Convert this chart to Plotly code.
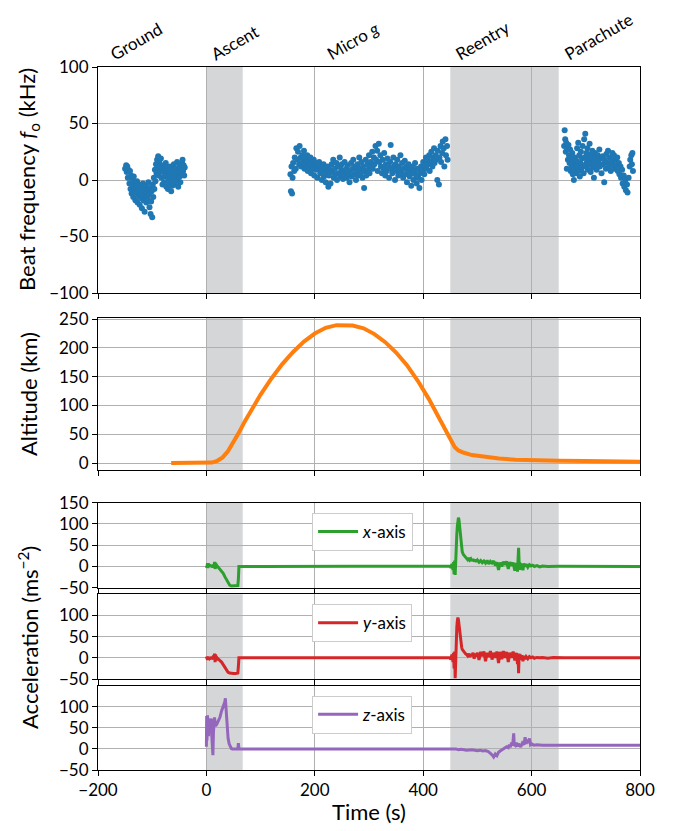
import plotly.graph_objects as go

# ---------------- data ----------------
gnd_t = [-150,-148,-147,-146,-145,-144,-142,-141,-140,-139,-138,-137,-136,-135,-134,-133,-132,-131,-130,-129,
         -128,-127,-126,-125,-124,-123,-122,-121,-120,-119,-118,-117,-116,-115,-114,-113,-112,-111,-110,-109,
         -108,-107,-106,-105,-104,-103,-102,-101,-100,-99,-98,-97,-96,-95,-94,-93,-92,-91,-90,-89,
         -88,-87,-86,-85,-84,-83,-82,-81,-80,-79,-78,-77,-76,-75,-74,-73,-72,-71,-70,-69,
         -68,-67,-66,-65,-64,-63,-62,-61,-60,-59,-58,-57,-56,-55,-54,-53,-52,-51,-50,-49,
         -48,-47,-46,-45,-44,-43,-42,-41,-40]
gnd_f = [10,13,7,12,2,9,-3,8,-8,4,-12,1,-5,-15,3,-9,-2,-18,-6,-11,
         -1,-20,-8,-14,-4,-22,-10,-16,-6,-25,-12,-3,-18,-9,-28,-14,-5,-20,-11,-8,
         -17,-2,-13,-24,-7,-30,-19,-10,-33,-4,-15,2,-8,9,-1,14,6,18,11,21,
         4,16,8,12,19,2,10,-4,7,13,-2,9,3,15,-6,5,11,-8,1,8,
         -3,12,5,-10,3,-5,9,0,14,-4,6,10,-1,4,16,1,-6,8,12,3,
         -2,10,6,15,18,8,13,4,11]

mg_t = [155,156,157,158,159,160,162,163,165,166,168,169,171,172,174,175,177,178,180,181,
        183,184,186,187,189,190,192,193,195,196,198,199,201,202,204,205,207,208,210,211,
        213,214,216,217,219,220,222,223,225,226,228,229,231,232,234,235,237,238,240,241,
        243,244,246,247,249,250,252,253,255,256,258,259,261,262,264,265,267,268,270,271,
        273,274,276,277,279,280,282,283,285,286,288,289,291,292,294,295,297,298,300,301,
        303,304,306,307,309,310,312,313,315,316,318,319,321,322,324,325,327,328,330,331,
        333,334,336,337,339,340,342,343,345,346,348,349,351,352,354,355,357,358,360,361,
        363,364,366,367,369,370,372,373,375,376,378,379,381,382,384,385,387,388,390,391,
        393,394,396,397,399,400,402,403,405,406,408,409,411,412,414,415,417,418,420,421,
        423,424,426,427,429,430,432,433,435,436,438,439,441,442,444,445]
mg_f = [5,-10,12,-12,2,15,8,20,10,28,18,25,14,30,20,12,22,16,26,10,
        18,14,22,8,17,12,20,6,14,10,18,4,13,9,15,2,10,16,6,12,
        0,8,14,3,10,-2,6,12,-6,4,9,-3,14,7,18,2,10,5,15,0,
        12,6,20,3,9,14,1,7,16,4,10,2,13,6,-2,8,15,3,10,18,
        5,12,0,8,14,4,20,10,6,16,2,12,-7,8,18,4,14,9,22,6,
        16,12,25,10,20,14,30,18,26,8,32,16,22,12,6,18,10,24,4,14,
        8,19,12,2,16,31,10,6,20,12,0,14,8,18,4,12,9,22,6,15,
        2,10,17,5,12,-2,8,14,3,10,-5,6,12,0,8,15,4,-3,10,2,
        -7,6,12,0,8,16,5,12,20,10,18,14,22,8,16,25,12,20,28,15,
        22,18,0,26,-4,20,30,16,24,34,28,12,36,22,30,18]

par_t = [660,661,662,663,664,665,666,667,668,669,670,671,672,673,674,675,676,677,678,679,
         680,681,682,683,684,685,686,687,688,689,690,691,692,693,694,695,696,697,698,699,
         700,701,702,703,704,705,706,707,708,709,710,711,712,713,714,715,716,717,718,719,
         720,722,723,725,726,728,729,731,732,734,735,737,738,740,741,743,744,746,747,749,
         750,752,753,755,756,758,759,761,762,764,765,767,768,770,771,773,774,776,777,779,
         781,782,784,785,786,787]
par_f = [30,44,36,25,33,10,28,18,31,22,15,27,8,19,12,24,5,16,0,10,
         20,14,6,17,28,12,33,8,22,3,15,25,10,19,30,13,6,36,20,41,
         12,24,16,28,9,21,14,32,18,7,23,15,26,11,19,2,17,24,13,20,
         9,22,16,27,12,19,6,21,14,-2,18,10,23,15,26,12,20,8,17,24,
         14,22,10,18,13,20,8,15,5,12,2,9,-3,4,-6,0,-9,-4,-11,2,
         12,18,22,14,24,8]

alt_t = [-65,-40,-20,0,10,20,30,40,50,60,70,80,90,100,120,140,160,180,200,220,
         240,255,270,290,310,330,350,370,390,410,425,440,450,458,465,475,490,510,540,570,
         600,650,700,750,800]
alt_h = [0,0,0,0,1,4,10,21,36,53,71,88,104,119,147,172,193,211,225,235,
         239.5,240,239,234,224,210,192,170,143,112,85,58,40,28,22,18,14,11,8,6,
         5,4,3.5,3,2.5]

ax_t = [0,1,2,3,4,5,6,8,10,12,14,15,16,17,18,20,22,25,28,31,34,37,40,43,46,50,54,58,59,59.5,
        60,100,200,300,400,445,449,451,453,455,456,457,458,459,460,461,462,463,464,465,
        466,467,468,469,470,471,472,474,476,478,480,482,484,486,488,490,492,494,496,498,
        500,503,506,509,512,515,518,521,524,527,530,533,536,539,542,545,548,551,554,557,
        560,563,566,569,572,574,575,576,577,578,579,580,582,584,586,588,590,593,596,599,
        602,605,610,615,620,630,650,700,750,800]
ax_v = [2,-3,8,-4,6,0,3,1,0,2,-2,11,-6,9,-3,1,-2,-5,-10,-16,-24,-32,-39,-44,-46,-46,-46,-45,-30,0,
        0,0,0,0,0,0,1,-3,6,-8,10,-18,14,-20,30,55,75,95,108,115,
        110,98,82,65,52,42,35,28,24,21,19,16,20,15,18,13,17,12,16,11,
        15,10,14,9,13,8,14,6,12,8,13,2,10,-8,9,0,11,4,12,-6,
        10,2,9,-10,8,-12,20,44,10,-8,8,3,6,-9,7,0,5,-2,4,1,
        3,0,2,-1,1,0,0.5,0,0.5,0]

ay_t = [0,1,2,3,4,5,6,8,10,12,14,15,16,17,18,20,22,25,28,31,34,37,40,43,46,50,54,58,59,59.5,
        60,100,200,300,400,445,449,451,453,455,456,457,458,459,460,461,462,463,464,465,
        466,467,468,469,470,471,472,474,476,478,480,482,484,486,488,490,492,494,496,498,
        500,503,506,509,512,515,518,521,524,527,530,533,536,539,542,545,548,551,554,557,
        560,563,566,569,572,574,575,576,577,578,579,580,582,584,586,588,590,593,596,599,
        602,605,610,615,620,630,640,650,660,700,750,800]
ay_v = [-2,2,-5,3,-3,0,-2,0,-1,2,-3,10,-10,8,-5,0,-3,-6,-10,-16,-22,-29,-34,-36,-37,-37,-37,-36,-20,0,
        0,0,0,0,0,0,1,-4,8,-10,12,-25,15,-48,25,50,72,88,95,90,
        78,62,48,38,30,25,20,16,12,10,8,5,10,2,9,4,12,-2,10,3,
        12,-5,14,4,15,-8,12,2,16,-4,12,0,15,-12,14,-3,16,0,14,-10,
        12,0,15,-6,12,-15,8,-36,10,-5,8,-2,6,-8,5,-3,3,-2,3,0,
        2,-1,1,0,1,-1,1,0,0.5,0,0,0]

az_t = [0,0.5,1,2,3,4,5,6,7,8,9,10,11,12,13,14,15,16,17,19,22,25,28,31,34,35,36,37,38,39,
        40,42,44,46,48,55,58,59,60,100,200,300,400,450,455,460,465,470,480,490,
        500,505,510,515,520,524,527,530,533,536,539,542,545,548,551,554,557,559,561,563,
        565,567,568,570,572,574,576,578,580,583,586,588,590,592,594,596,598,600,604,610,
        620,650,700,750,800]
az_v = [5,78,20,80,60,30,72,40,55,65,72,30,-10,-15,40,68,75,62,55,58,65,75,90,100,112,120,95,75,55,40,
        25,12,5,1,0,0,0,14,0,0,0,0,0,0,-1,0,-2,-1,-3,-2,
        -4,-3,-5,-4,-6,-10,-14,-19,-12,-16,-8,-5,-2,0,2,5,3,10,4,15,
        8,37,10,8,15,6,12,8,5,14,10,28,12,22,14,25,10,12,9,10,
        9,9,9,9,9]

phase_names = ["Ground", "Ascent", "Micro <i>g</i>", "Reentry", "Parachute"]
phase_label_x = [-190, -3, 211, 447, 648]
shade_spans = [(0, 67), (450, 650)]

x_ticks = [-200, 0, 200, 400, 600, 800]

# ---------------- figure ----------------
FONT = "Lato"
BLUE, ORANGE, GREEN, RED, PURPLE = "#1f77b4", "#ff7f0e", "#2ca02c", "#d62728", "#9467bd"
GRID = "#b0b0b0"
SHADE = "#d5d6d8"

fig = go.Figure()

fig.add_trace(go.Scatter(x=gnd_t + mg_t + par_t, y=gnd_f + mg_f + par_f, mode="markers",
                         marker=dict(color=BLUE, size=6), xaxis="x", yaxis="y", showlegend=False))
fig.add_trace(go.Scatter(x=alt_t, y=alt_h, mode="lines", line=dict(color=ORANGE, width=4),
                         xaxis="x2", yaxis="y2", showlegend=False))
fig.add_trace(go.Scatter(x=ax_t, y=ax_v, mode="lines", line=dict(color=GREEN, width=3),
                         xaxis="x3", yaxis="y3", name="<i>x</i>-axis", legend="legend"))
fig.add_trace(go.Scatter(x=ay_t, y=ay_v, mode="lines", line=dict(color=RED, width=3),
                         xaxis="x4", yaxis="y4", name="<i>y</i>-axis", legend="legend2"))
fig.add_trace(go.Scatter(x=az_t, y=az_v, mode="lines", line=dict(color=PURPLE, width=3),
                         xaxis="x5", yaxis="y5", name="<i>z</i>-axis", legend="legend3"))

domains = [[0.6785, 1.0], [0.4267, 0.643], [0.2593, 0.3802], [0.1294, 0.2499], [0.0, 0.1199]]
y_ranges = [[-100, 100], [-12, 252], [-50, 150], [-50, 150], [-50, 150]]
y_ticks = [[-100, -50, 0, 50, 100], [0, 50, 100, 150, 200, 250],
           [-50, 0, 50, 100, 150], [-50, 0, 50, 100], [-50, 0, 50, 100]]

tickfont = dict(family=FONT, size=17, color="black")
layout = {}
for i in range(5):
    sx = "" if i == 0 else str(i + 1)
    layout["xaxis" + sx] = dict(
        range=[-200, 800], tickvals=x_ticks, showgrid=True, gridcolor=GRID, gridwidth=1,
        showline=True, linecolor="black", linewidth=1, mirror=True, ticks="outside",
        ticklen=5, tickcolor="black", zeroline=False, showticklabels=(i == 4),
        tickfont=tickfont, anchor="y" + sx, domain=[0, 1])
    layout["yaxis" + sx] = dict(
        range=y_ranges[i], tickvals=y_ticks[i], showgrid=True, gridcolor=GRID, gridwidth=1,
        showline=True, linecolor="black", linewidth=1, mirror=True, ticks="outside",
        ticklen=5, tickcolor="black", zeroline=False, tickfont=tickfont,
        anchor="x" + sx, domain=domains[i])
    for (a, b) in shade_spans:
        fig.add_shape(type="rect", xref="x" + sx, yref="y" + sx + " domain",
                      x0=a, x1=b, y0=0, y1=1, fillcolor=SHADE, line=dict(width=0), layer="below")

fig.update_layout(**layout)

legend_style = dict(xanchor="left", yanchor="top", bgcolor="white", bordercolor="#cccccc",
                    borderwidth=1, itemwidth=40, font=dict(family=FONT, size=17, color="black"))
fig.update_layout(
    legend=dict(x=0.395, y=0.3656, **legend_style),
    legend2=dict(x=0.395, y=0.236, **legend_style),
    legend3=dict(x=0.395, y=0.1057, **legend_style),
)

annotations = []
for name, xp in zip(phase_names, phase_label_x):
    annotations.append(dict(text=name, x=xp, y=1.0, xref="x", yref="paper",
                            xanchor="left", yanchor="bottom", textangle=-30, showarrow=False,
                            font=dict(family=FONT, size=17, color="black")))
title_font = dict(family=FONT, size=22, color="black")
for txt, yc in [("Beat frequency <i>f</i><sub>o</sub> (kHz)", (770 - 180) / 703),
                ("Altitude (km)", (770 - 394) / 703),
                ("Acceleration (ms<sup>−2</sup>)", (770 - 638) / 703)]:
    annotations.append(dict(text=txt, x=(28 - 98) / 542, y=yc, xref="paper", yref="paper",
                            xanchor="center", yanchor="middle", textangle=-90, showarrow=False,
                            font=title_font))
annotations.append(dict(text="Time (s)", x=0.5, y=(770 - 812) / 703, xref="paper", yref="paper",
                        xanchor="center", yanchor="middle", showarrow=False, font=title_font))

# page body adds an 8px offset, so margins compensate
fig.update_layout(
    width=673, height=831,
    margin=dict(l=90, r=41, t=59, b=69),
    paper_bgcolor="white", plot_bgcolor="white",
    font=dict(family=FONT, color="black"),
    annotations=annotations,
)

fig.write_html("out.html")
